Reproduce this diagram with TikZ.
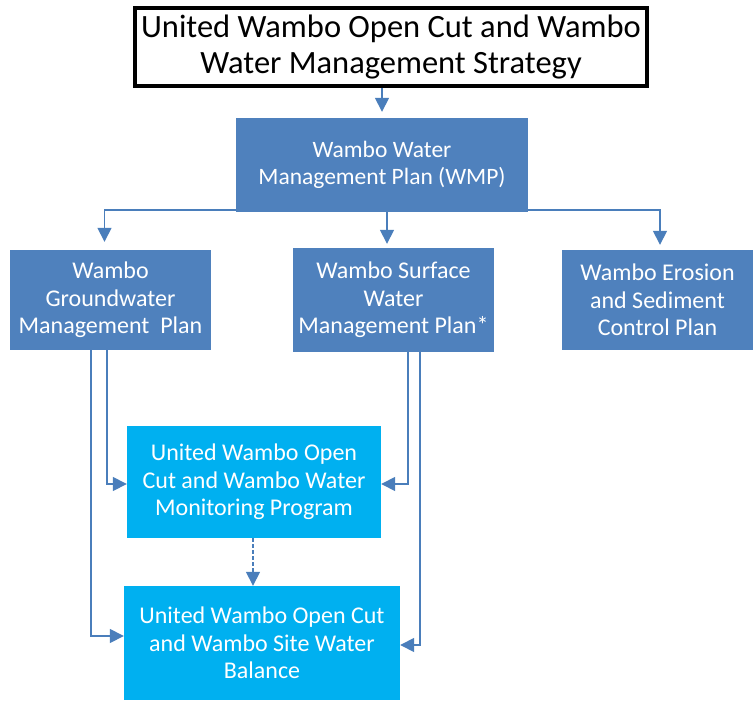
\documentclass[tikz,border=0pt]{standalone}
\usepackage{fontspec}
\setmainfont{Carlito}
\usepackage{xcolor}
\usetikzlibrary{arrows.meta}
\definecolor{planblue}{HTML}{4F81BD}
\definecolor{progcyan}{HTML}{00B0F0}
\definecolor{linkblue}{HTML}{4A7EBB}

\begin{document}
\begin{tikzpicture}[
    x=1pt, y=-1pt,
    every node/.style={rectangle, align=center, inner sep=0pt},
    plan/.style={fill=planblue, text=white, font=\fontsize{24}{27.5}\selectfont},
    prog/.style={fill=progcyan, text=white, font=\fontsize{24}{27.5}\selectfont},
    link/.style={draw=linkblue, line width=1.6pt, -{Triangle[length=14pt,width=14pt]}}
  ]
\useasboundingbox (0,0) rectangle (753,703);

% Strategy at the top
\node (strategy) [draw=black, line width=4pt, minimum width=512pt, minimum height=78pt,
    font=\fontsize{32.5}{36}\selectfont] at (391,47)
    {United Wambo Open Cut and Wambo\\Water Management Strategy};

% Water management plan and its sub plans
\node (wmp) [plan, minimum width=292pt, minimum height=94pt,
    font=\fontsize{23.5}{27.7}\selectfont] at (382,165)
    {Wambo Water\\Management Plan (WMP)};
\node (ground) [plan, minimum width=201pt, minimum height=100pt] at (110.5,300)
    {Wambo\\Groundwater\\Management~~Plan};
\node (surface) [plan, minimum width=201pt, minimum height=104pt] at (393.5,300)
    {Wambo Surface\\Water\\Management Plan*};
\node (erosion) [plan, minimum width=191pt, minimum height=100pt] at (657.5,300)
    {Wambo Erosion\\and Sediment\\Control Plan};

% Program and balance
\node (monitor) [prog, minimum width=254pt, minimum height=112pt] at (254,482)
    {United Wambo Open\\Cut and Wambo Water\\Monitoring Program};
\node (balance) [prog, minimum width=276pt, minimum height=114pt] at (262,643)
    {United Wambo Open Cut\\and Wambo Site Water\\Balance};

% Connectors
\draw[link, shorten >=6pt] (strategy.south -| wmp) -- (wmp.north);
\draw[link, shorten >=8pt] ([yshift=2pt]wmp.south west) -| ([xshift=-6pt]ground.north);
\draw[link, shorten >=4pt] ([xshift=5pt]wmp.south) -- ([xshift=5pt]wmp.south |- surface.north);
\draw[link, shorten >=5pt] ([yshift=2pt]wmp.south east) -| ([xshift=2.5pt]erosion.north);

\draw[link] ([xshift=-3.5pt]ground.south) |- ([yshift=-2pt]monitor.west);
\draw[link] ([xshift=-19.5pt]ground.south) |- ([yshift=7pt]balance.west);
\draw[link] ([xshift=14.5pt]surface.south) |- ([yshift=-2pt]monitor.east);
\draw[link] ([xshift=26.5pt]surface.south) |- ([yshift=-2pt]balance.east);

\draw[link, dash pattern=on 4pt off 2pt] (monitor.south -| 253,0) -- (balance.north -| 253,0);

\end{tikzpicture}
\end{document}
